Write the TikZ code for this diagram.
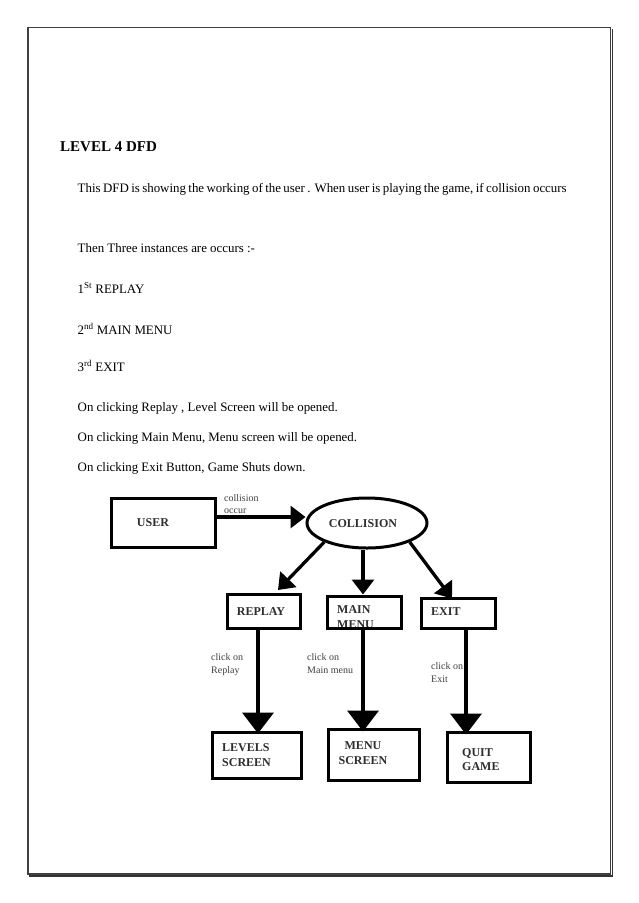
\documentclass[tikz,border=0pt]{standalone}
\usepackage{fontspec}
\setmainfont{Liberation Serif}
\usetikzlibrary{arrows.meta,shapes.geometric,calc}
\begin{document}
\begin{tikzpicture}[x=1pt,y=-1pt,
  body/.style={anchor=base west, inner sep=0pt, font=\fontsize{12.9}{15}\selectfont},
  box/.style={draw, line width=3pt, inner sep=0pt},
  btext/.style={inner sep=0pt, font=\bfseries\fontsize{12}{15}\selectfont, text=black!82},
  lbl/.style={inner sep=0pt, anchor=base west, align=left, text=black!75},
  arrA/.style={line width=3.3pt, -{Triangle[width=22pt,length=15pt]}},
  arrB/.style={line width=4pt, -{Triangle[width=31pt,length=21pt]}}]
\useasboundingbox (0,0) rectangle (638,903);
\fill[white] (0,0) rectangle (638,903);
% page frame
\draw[black!75, line width=1.1pt] (28,27.5) rectangle (610.5,874);
\draw[black!80, line width=1.3pt] (612.5,29) -- (612.5,876) -- (29,876);

% text
\node[body, font=\bfseries\fontsize{15}{18}\selectfont] (title) at (60,151) {LEVEL 4 DFD};
\node[body] (p1) at (77.5,192) {\makebox[489pt][s]{This DFD is showing the working of the user . When user is playing the game, if collision occurs}};
\node[body] (p2) at (77.5,252) {Then Three instances are occurs :-};
\node[body] (p3) at (77.5,293) {1\textsuperscript{St} REPLAY};
\node[body] (p4) at (77.5,334) {2\textsuperscript{nd} MAIN MENU};
\node[body] (p5) at (77.5,371) {3\textsuperscript{rd} EXIT};
\node[body] (p6) at (77.5,411) {On clicking Replay , Level Screen will be opened.};
\node[body] (p7) at (77.5,441) {On clicking Main Menu, Menu screen will be opened.};
\node[body] (p8) at (77.5,471) {On clicking Exit Button, Game Shuts down.};

% diagram boxes
\node[box, minimum width=104pt, minimum height=49pt] (user) at (163,522.5) {};
\node[btext] (usertxt) at (153,523) {USER};
\node[box, ellipse, minimum width=120pt, minimum height=50pt] (coll) at (367,523) {};
\node[btext] (colltxt) at (363,524) {COLLISION};

\node[box, minimum width=73pt, minimum height=34pt] (replay) at (263.5,611) {};
\node[btext] (replaytxt) at (261,612) {REPLAY};
\node[btext, align=left, anchor=north west] (mainmenutxt) at (337,605) {MAIN\\MENU};
\node[box, minimum width=74pt, minimum height=32pt] (mainmenu) at (364,612) {};
\node[box, minimum width=74pt, minimum height=30pt] (exit) at (458,613) {};
\node[btext, anchor=west] (exittxt) at (431,612) {EXIT};

\node[box, minimum width=89pt, minimum height=46pt] (levels) at (256.5,755) {};
\node[btext, align=left, anchor=north west] (levelstxt) at (222,743) {LEVELS\\SCREEN};
\node[box, minimum width=91pt, minimum height=51pt] (menuscr) at (373.5,754.5) {};
\node[btext, align=center, anchor=north] (menuscrtxt) at (363,741) {MENU\\SCREEN};
\node[box, minimum width=83pt, minimum height=50pt] (quit) at (488.5,757) {};
\node[btext, align=left, anchor=north west, font=\bfseries\fontsize{12}{14}\selectfont] (quittxt) at (462,748) {QUIT\\GAME};

% labels (base = baseline of last line)
\node[lbl, font=\fontsize{10}{12}\selectfont] (lcoll) at (224,513.5) {collision\\occur};
\node[lbl, font=\fontsize{10}{13}\selectfont] (lrep) at (211,673.5) {click on\\Replay};
\node[lbl, font=\fontsize{10}{13}\selectfont] (lmain) at (307,673.5) {click on\\Main menu};
\node[lbl, font=\fontsize{10}{12.5}\selectfont] (lexit) at (431,682) {click on\\Exit};

% connectors
\coordinate (yl) at (0,517);
\draw[arrA] (user.east |- yl) -- (coll.west |- yl);
\draw[arrA] (coll.204) -- ($(replay.north)+(14.5,-2.5)$);
\draw[arrA] ($(coll.south)+(-4,0)$) -- ($(mainmenu.north)+(-1,0)$);
\draw[arrA] (coll.336) -- ($(exit.north)+(-6,2)$);

\coordinate (s1) at ($(replay.south)+(-5.5,0)$);
\coordinate (e1) at ($(levels.north)+(0,3)$);
\coordinate (s2) at ($(mainmenu.south)+(-1,0)$);
\coordinate (e2) at ($(menuscr.north)+(0,4)$);
\coordinate (s3) at ($(exit.south)+(8,0)$);
\coordinate (e3) at ($(quit.north)+(0,4)$);
\draw[arrB] (s1) -- (s1 |- e1);
\draw[arrB] (s2) -- (s2 |- e2);
\draw[arrB] (s3) -- (s3 |- e3);
\end{tikzpicture}
\end{document}
